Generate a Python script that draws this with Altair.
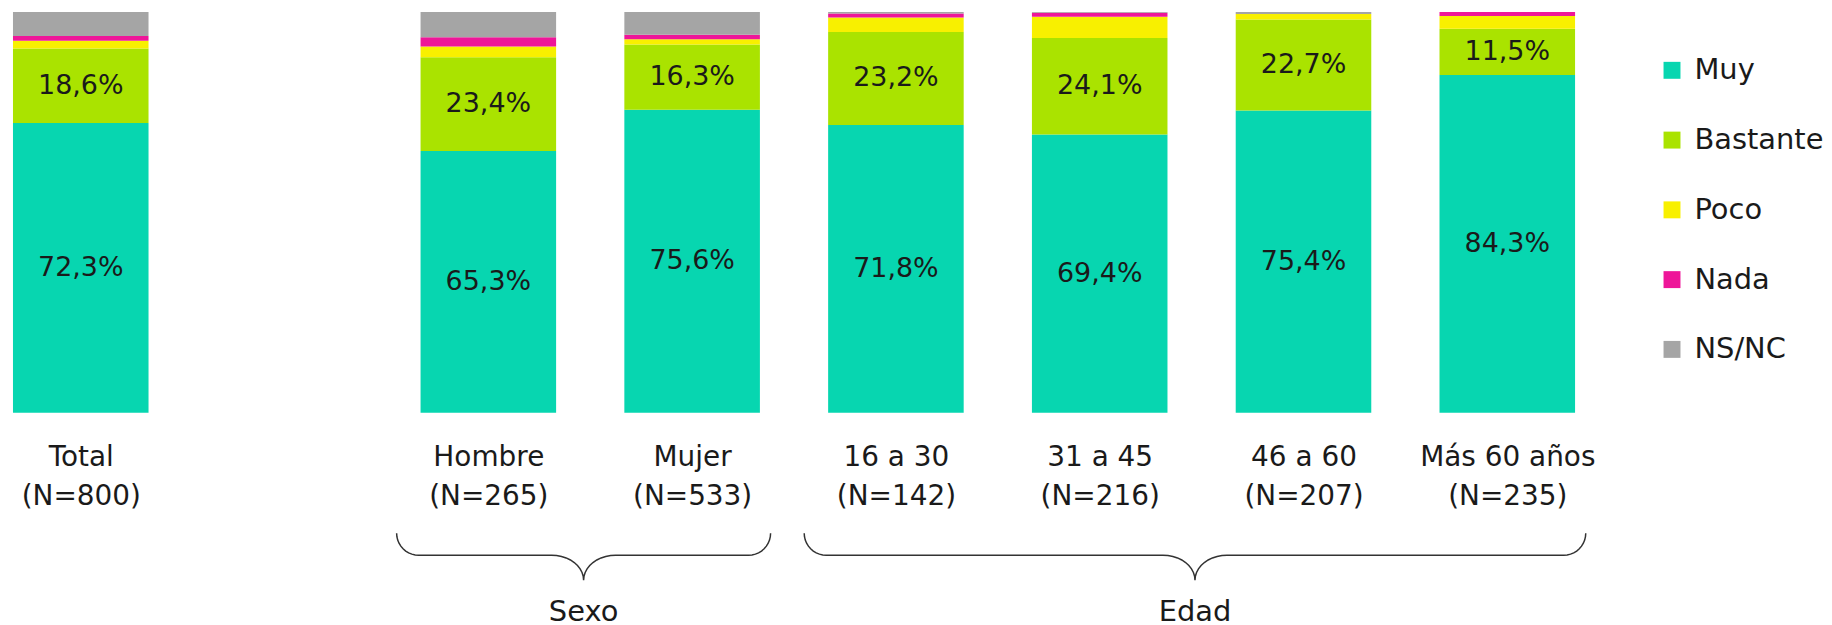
import math
import altair as alt
import pandas as pd

# ---- data ----
categories = ["Total", "Hombre", "Mujer", "16 a 30", "31 a 45", "46 a 60", "Más 60 años"]
sample_n = [800, 265, 533, 142, 216, 207, 235]
muy = [72.3, 65.3, 75.6, 71.8, 69.4, 75.4, 84.3]
bastante = [18.6, 23.4, 16.3, 23.2, 24.1, 22.7, 11.5]
poco = [1.9, 2.7, 1.3, 3.6, 5.3, 1.4, 3.2]
nada = [1.2, 2.3, 1.1, 1.0, 1.0, 0.0, 1.0]
nsnc = [6.0, 6.3, 5.7, 0.4, 0.2, 0.5, 0.0]

series_names = ["Muy", "Bastante", "Poco", "Nada", "NS/NC"]
series_colors = ["#07D6B0", "#AAE300", "#F8F000", "#EE1699", "#A5A5A5"]
labelled_series = ["Muy", "Bastante"]

# slot layout: a blank slot separates Total from the groups
slot_order = ["Total", "", "Hombre", "Mujer", "16 a 30", "31 a 45", "46 a 60", "Más 60 años"]
groups = [("Sexo", ["Hombre", "Mujer"]), ("Edad", ["16 a 30", "31 a 45", "46 a 60", "Más 60 años"])]

FONT = "DejaVu Sans"
TXT = "#1a1a1a"

# ---- build tables ----
values = [muy, bastante, poco, nada, nsnc]
rows = []
for ci, cat in enumerate(categories):
    slot = slot_order.index(cat)
    cum = 0.0
    for si, name in enumerate(series_names):
        v = values[si][ci]
        rows.append({"cat": cat, "slot": slot, "serie": name, "ord": si, "value": v,
                     "mid": cum + v / 2,
                     "label": (f"{v:.1f}".replace(".", ",") + "%") if name in labelled_series else ""})
        cum += v
df = pd.DataFrame(rows)
df_lab = df[df["label"] != ""]

# axis label expression (two lines per category)
lab_arrays = []
for s in slot_order:
    if s == "":
        lab_arrays.append("['']")
    else:
        n = sample_n[categories.index(s)]
        lab_arrays.append(f"['{s}', '(N={n})']")
label_expr = "[" + ", ".join(lab_arrays) + "][datum.value]"
tick_vals = [i for i, s in enumerate(slot_order) if s != ""]

XDOM = [-0.357, 7.395]
W = 1585
xscale = alt.Scale(domain=XDOM, nice=False, zero=False, padding=0)

color = alt.Color("serie:N",
                  scale=alt.Scale(domain=series_names, range=series_colors),
                  legend=alt.Legend(title=None, orient="none", legendX=1655, legendY=44,
                                    symbolType="square", symbolSize=289, symbolStrokeWidth=0,
                                    labelFont=FONT, labelFontSize=29, labelColor=TXT,
                                    rowPadding=40, labelOffset=8, padding=0))

base = alt.Chart(df)
bars = base.mark_bar(size=136).encode(
    x=alt.X("slot:Q", scale=xscale,
            axis=alt.Axis(values=tick_vals, labelExpr=label_expr, domain=False, ticks=False,
                          grid=False, title=None, labelFont=FONT, labelFontSize=28,
                          labelColor=TXT, labelPadding=31, labelLineHeight=39,
                          labelOverlap=False, labelFlush=False, labelBound=False, labelAngle=0)),
    y=alt.Y("value:Q", stack="zero", scale=alt.Scale(domain=[0, 100], nice=False), axis=None),
    color=color,
    order=alt.Order("ord:Q", sort="ascending"),
)
texts = alt.Chart(df_lab).mark_text(font=FONT, fontSize=27, color=TXT, baseline="middle").encode(
    x=alt.X("slot:Q", scale=xscale),
    y=alt.Y("mid:Q", scale=alt.Scale(domain=[0, 100], nice=False)),
    text="label:N",
)
top = alt.layer(bars, texts).properties(width=W, height=402)

# ---- braces under the groups ----
H_B = 92
Y_MID, Y_TIP, Y_TITLE = 22, 47, 79
RX_END, RX_TIP = 0.108, 0.157
brace_rows = []
title_rows = []
for gname, members in groups:
    idx = [slot_order.index(m) for m in members]
    x0 = min(idx) - 0.45
    x1 = max(idx) + 0.385
    xc = (x0 + x1) / 2
    pts = []
    steps = 10
    for k in range(steps + 1):
        t = (math.pi / 2) * k / steps
        pts.append((x0 + RX_END - RX_END * math.cos(t), Y_MID * math.sin(t)))
    for k in range(steps + 1):
        t = (math.pi / 2) * k / steps
        pts.append((xc - RX_TIP + RX_TIP * math.sin(t), Y_TIP - (Y_TIP - Y_MID) * math.cos(t)))
    for k in range(steps + 1):
        t = (math.pi / 2) * k / steps
        pts.append((xc + RX_TIP - RX_TIP * math.cos(t), Y_TIP - (Y_TIP - Y_MID) * math.sin(t)))
    for k in range(steps + 1):
        t = (math.pi / 2) * k / steps
        pts.append((x1 - RX_END + RX_END * math.sin(t), Y_MID * math.cos(t)))
    for i, (px, py) in enumerate(pts):
        brace_rows.append({"g": gname, "i": i, "x": px, "y": py})
    title_rows.append({"g": gname, "x": xc, "y": Y_TITLE})

yb = alt.Scale(domain=[0, H_B], reverse=True, nice=False)
braces = alt.Chart(pd.DataFrame(brace_rows)).mark_line(color="#333333", strokeWidth=1.5).encode(
    x=alt.X("x:Q", scale=xscale, axis=None),
    y=alt.Y("y:Q", scale=yb, axis=None),
    detail="g:N",
    order="i:Q",
)
titles = alt.Chart(pd.DataFrame(title_rows)).mark_text(font=FONT, fontSize=29, color=TXT,
                                                       baseline="middle").encode(
    x=alt.X("x:Q", scale=xscale, axis=None),
    y=alt.Y("y:Q", scale=yb, axis=None),
    text="g:N",
)
bottom = alt.layer(braces, titles).properties(width=W, height=H_B)

chart = alt.vconcat(top, bottom, spacing=20).properties(
    padding={"left": 0, "top": 2, "right": 0, "bottom": 0}
).configure_view(stroke=None)

chart.save("out.html", embed_options={"renderer": "svg", "actions": False})
